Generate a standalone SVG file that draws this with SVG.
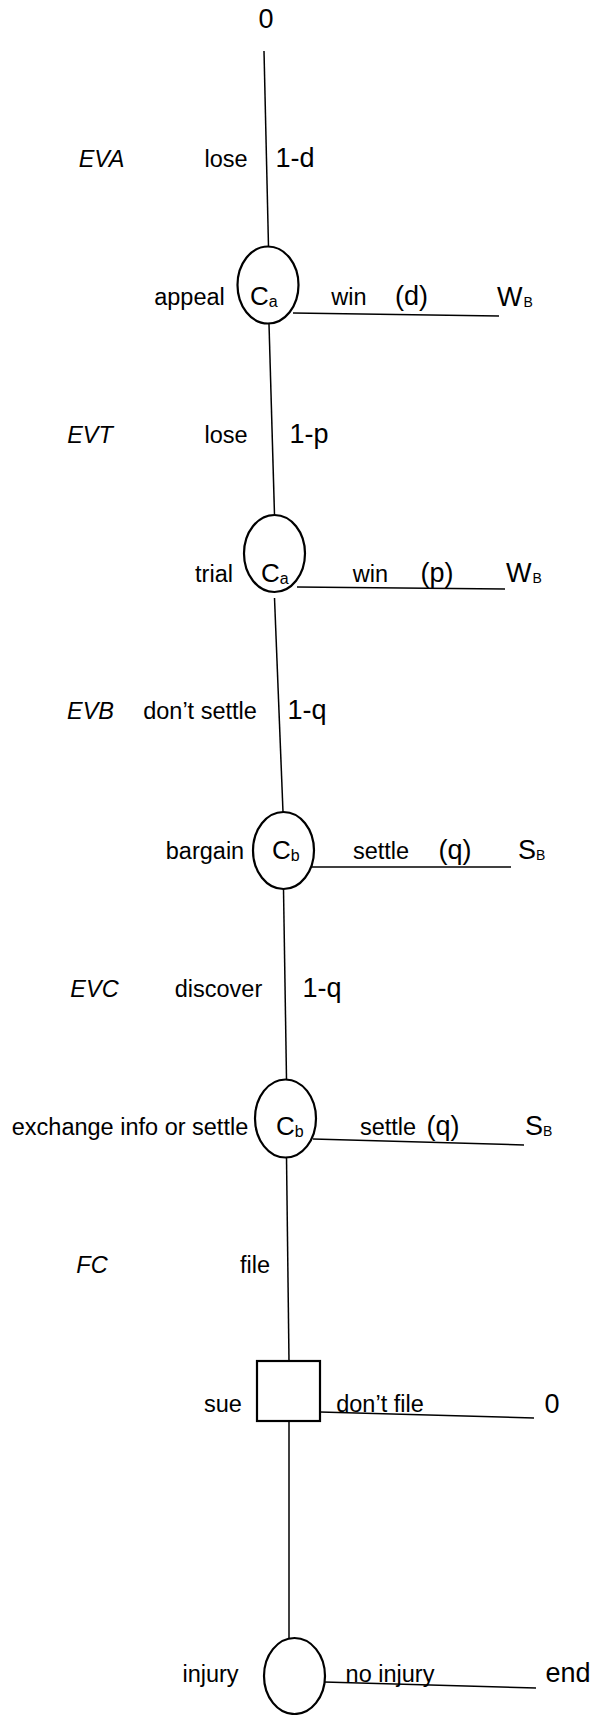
<svg xmlns="http://www.w3.org/2000/svg" width="593" height="1715" viewBox="0 0 593 1715">
<style>
text{font-family:"Liberation Sans",Arial,sans-serif;fill:#000}
.s{font-size:23.5px}
.b{font-size:27px}
.i{font-size:23.5px;font-style:italic}
.m{text-anchor:middle}
.c{font-size:26px}
.sub{font-size:16px}
.subB{font-size:14px}
.ln{stroke:#000;stroke-width:1.5;fill:none}
.nd{stroke:#000;stroke-width:2.2;fill:#fff}
</style>
<rect width="593" height="1715" fill="#fff"/>
<g id="connectors">
<line class="ln" x1="264" y1="51" x2="268.5" y2="247"/>
<line class="ln" x1="293" y1="313" x2="499" y2="316"/>
<line class="ln" x1="269" y1="324" x2="274.5" y2="515"/>
<line class="ln" x1="297" y1="587" x2="505" y2="589"/>
<line class="ln" x1="274.5" y1="598" x2="283" y2="812"/>
<line class="ln" x1="308" y1="867" x2="511" y2="867"/>
<line class="ln" x1="283.5" y1="889" x2="286.5" y2="1079"/>
<line class="ln" x1="313" y1="1139" x2="524" y2="1145"/>
<line class="ln" x1="286.5" y1="1157" x2="289" y2="1361"/>
<line class="ln" x1="320" y1="1412" x2="534" y2="1418"/>
<line class="ln" x1="289" y1="1421" x2="289" y2="1638"/>
<line class="ln" x1="324" y1="1682" x2="536" y2="1688"/>
</g>
<g id="terminal-top"><text class="b m" x="266" y="28">0</text></g>
<g id="labels-eva">
<text class="i m" x="101.5" y="167">EVA</text>
<text class="s m" x="226" y="167">lose</text>
<text class="b m" x="295" y="167">1-d</text>
</g>
<g id="node-appeal">
<ellipse class="nd" cx="268" cy="285" rx="30.5" ry="38.5"/>
<text class="s m" x="189.5" y="305">appeal</text>
<text class="c" x="250" y="305">C<tspan class="sub" dy="2">a</tspan></text>
<text class="s m" x="349" y="305">win</text>
<text class="b m" x="411.5" y="305">(d)</text>
<text class="b" x="497" y="306">W<tspan class="subB" dx="1" dy="1">B</tspan></text>
</g>
<g id="labels-evt">
<text class="i m" x="90" y="443">EVT</text>
<text class="s m" x="226" y="443">lose</text>
<text class="b m" x="309" y="443">1-p</text>
</g>
<g id="node-trial">
<ellipse class="nd" cx="274.5" cy="553.5" rx="30.5" ry="38.5"/>
<text class="s m" x="214" y="582">trial</text>
<text class="c" x="261" y="582">C<tspan class="sub" dy="2">a</tspan></text>
<text class="s m" x="370.5" y="582">win</text>
<text class="b m" x="437" y="582">(p)</text>
<text class="b" x="506" y="582">W<tspan class="subB" dx="1" dy="1">B</tspan></text>
</g>
<g id="labels-evb">
<text class="i m" x="90.5" y="719">EVB</text>
<text class="s m" x="200" y="719">don’t settle</text>
<text class="b m" x="307" y="719">1-q</text>
</g>
<g id="node-bargain">
<ellipse class="nd" cx="283.5" cy="850.5" rx="30.5" ry="38.5"/>
<text class="s m" x="205" y="859">bargain</text>
<text class="c" x="272" y="859">C<tspan class="sub" dy="2">b</tspan></text>
<text class="s m" x="381" y="859">settle</text>
<text class="b m" x="455" y="859">(q)</text>
<text class="b" x="518" y="859">S<tspan class="subB" dy="1">B</tspan></text>
</g>
<g id="labels-evc">
<text class="i m" x="94.5" y="997">EVC</text>
<text class="s m" x="218.5" y="997">discover</text>
<text class="b m" x="322" y="997">1-q</text>
</g>
<g id="node-exchange">
<ellipse class="nd" cx="285.5" cy="1118.5" rx="30.5" ry="39"/>
<text class="s m" x="130" y="1135">exchange info or settle</text>
<text class="c" x="276" y="1135">C<tspan class="sub" dy="2">b</tspan></text>
<text class="s m" x="388" y="1135">settle</text>
<text class="b m" x="443" y="1135">(q)</text>
<text class="b" x="525" y="1135">S<tspan class="subB" dy="1">B</tspan></text>
</g>
<g id="labels-fc">
<text class="i m" x="92" y="1273">FC</text>
<text class="s m" x="255" y="1273">file</text>
</g>
<g id="node-sue">
<rect class="nd" x="257" y="1361" width="63" height="60"/>
<text class="s m" x="223" y="1412">sue</text>
<text class="s m" x="380" y="1412">don’t file</text>
<text class="b m" x="552" y="1413">0</text>
</g>
<g id="node-injury">
<ellipse class="nd" cx="294.5" cy="1676" rx="30.5" ry="38"/>
<text class="s m" x="210.5" y="1682">injury</text>
<text class="s m" x="390" y="1682">no injury</text>
<text class="b m" x="568" y="1682">end</text>
</g>
</svg>
